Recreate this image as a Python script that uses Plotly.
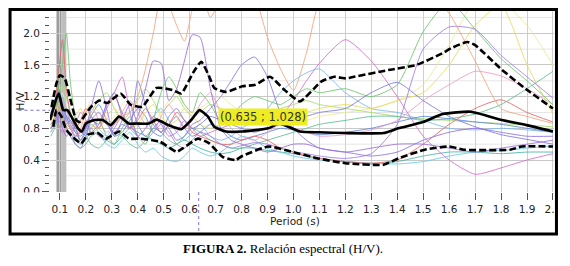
import plotly.graph_objects as go

# ---------------- data ----------------
# common period grid for the individual H/V curves
P = [0.065, 0.08, 0.095, 0.11, 0.125, 0.14, 0.16, 0.18, 0.20, 0.22,
     0.25, 0.28, 0.31, 0.34, 0.37, 0.40, 0.43, 0.46, 0.49, 0.52,
     0.55, 0.58, 0.61, 0.64, 0.68, 0.72, 0.76, 0.80, 0.85, 0.90,
     0.95, 1.00, 1.05, 1.10, 1.20, 1.30, 1.40, 1.50, 1.60, 1.70,
     1.80, 1.90, 2.00]

hv_orange = [0.90, 1.00, 1.10, 0.95, 0.85, 0.80, 0.70, 0.75, 0.90, 0.85,
             0.80, 0.92, 0.85, 0.95, 1.00, 1.20, 1.55, 2.00, 2.45, 2.35,
             2.10, 1.90, 2.30, 2.60, 2.20, 2.45, 2.80, 2.80, 2.50, 1.95,
             1.55, 1.28, 1.75, 2.40, 2.80, 2.80, 2.80, 2.60, 2.25, 1.65,
             1.05, 0.95, 0.86]
hv_purple_a = [0.85, 0.90, 1.00, 0.80, 0.70, 0.75, 0.60, 0.55, 0.70, 0.90,
               1.00, 0.85, 0.75, 0.85, 0.80, 0.95, 1.30, 1.65, 1.62, 1.15,
               1.30, 1.65, 1.98, 1.95, 1.30, 0.80, 0.65, 0.60, 0.55, 0.50,
               0.55, 0.60, 0.60, 0.55, 0.50, 0.55, 0.60, 0.60, 0.55, 0.50,
               0.55, 0.60, 0.65]
hv_purple_b = [0.95, 1.05, 0.90, 0.85, 0.95, 0.90, 0.75, 0.65, 0.80, 1.05,
               1.40, 1.05, 0.70, 0.90, 1.10, 0.85, 0.70, 0.80, 0.90, 0.80,
               0.65, 0.70, 0.85, 0.90, 1.05, 1.20, 1.40, 1.60, 1.70, 1.45,
               1.00, 0.80, 0.65, 0.55, 0.50, 0.45, 0.50, 0.65, 0.75, 0.80,
               0.75, 0.70, 0.70]
hv_violet = [0.80, 0.85, 0.95, 1.05, 0.90, 0.80, 0.70, 0.75, 0.85, 0.80,
             0.70, 0.65, 0.80, 0.95, 0.85, 0.70, 0.65, 0.75, 0.85, 0.75,
             0.60, 0.55, 0.65, 0.75, 0.70, 0.60, 0.55, 0.58, 0.62, 0.60,
             0.55, 0.50, 0.48, 0.45, 0.42, 0.48, 0.85, 1.80, 2.08, 2.05,
             1.72, 1.45, 1.18]
hv_blueviolet = [1.00, 1.10, 1.20, 1.00, 0.85, 0.90, 0.80, 0.65, 0.75, 0.90,
                 0.85, 1.10, 1.25, 0.95, 0.80, 1.40, 1.10, 0.85, 0.75, 0.95,
                 1.05, 0.90, 0.80, 0.85, 0.95, 0.90, 0.85, 0.80, 0.75, 0.80,
                 0.85, 0.90, 0.95, 1.00, 1.05, 1.25, 1.38, 1.15, 0.95, 0.82,
                 0.72, 0.66, 0.60]
hv_magenta = [0.90, 1.00, 0.85, 0.75, 0.80, 0.70, 0.85, 1.00, 0.90, 0.75,
              0.85, 1.10, 1.25, 1.45, 1.00, 0.70, 0.80, 0.95, 0.85, 0.70,
              0.75, 0.90, 0.80, 0.70, 0.75, 0.80, 0.85, 0.90, 0.95, 0.90,
              0.95, 1.15, 1.40, 1.62, 1.92, 1.65, 1.20, 0.70, 0.40, 0.22,
              0.30, 0.40, 0.48]
hv_pink = [0.75, 0.85, 1.00, 1.15, 1.05, 0.85, 0.70, 0.80, 1.00, 1.10,
           0.90, 0.75, 0.85, 1.00, 1.15, 1.00, 0.85, 0.75, 0.95, 1.10,
           0.95, 0.80, 0.90, 1.10, 1.25, 1.00, 0.80, 0.70, 0.65, 0.75,
           0.85, 0.80, 0.75, 0.70, 0.72, 0.78, 0.90, 1.15, 1.35, 1.52,
           1.46, 1.30, 1.10]
hv_green = [0.80, 0.95, 1.30, 1.60, 2.00, 1.40, 0.90, 0.60, 0.65, 0.80,
            0.90, 0.70, 0.60, 0.80, 0.95, 0.70, 0.60, 0.90, 1.25, 1.45,
            1.30, 1.10, 1.00, 1.25, 1.10, 0.90, 0.95, 1.10, 1.20, 1.15,
            1.10, 1.20, 1.30, 1.25, 1.30, 1.20, 1.35, 2.02, 2.40, 2.05,
            1.68, 1.40, 1.10]
hv_seagreen = [0.70, 0.80, 0.95, 1.10, 0.95, 0.80, 0.70, 0.75, 0.70, 0.60,
               0.55, 0.65, 0.75, 0.70, 0.60, 0.55, 0.65, 0.80, 0.75, 0.65,
               0.60, 0.70, 0.80, 0.75, 0.65, 0.60, 0.55, 0.55, 0.60, 0.65,
               0.70, 0.75, 0.80, 0.85, 0.90, 0.95, 0.95, 0.90, 0.92, 0.98,
               1.10, 1.30, 1.52]
hv_cyan = [0.75, 0.85, 1.00, 1.20, 1.05, 0.85, 0.65, 0.60, 0.70, 0.85,
           0.75, 0.60, 0.55, 0.65, 0.75, 0.60, 0.50, 0.55, 0.45, 0.40,
           0.38, 0.45, 0.55, 0.50, 0.45, 0.50, 0.60, 0.70, 0.65, 0.55,
           0.50, 0.45, 0.42, 0.40, 0.38, 0.36, 0.35, 0.38, 0.45, 0.50,
           0.52, 0.55, 0.58]
hv_lightblue = [0.95, 1.05, 1.15, 1.00, 0.90, 0.95, 0.85, 0.75, 0.85, 0.95,
                0.80, 0.70, 0.85, 0.95, 0.80, 0.70, 0.80, 0.95, 1.05, 0.90,
                0.75, 0.65, 0.75, 0.85, 0.70, 0.65, 0.70, 0.80, 0.90, 1.05,
                1.25, 1.40, 1.50, 1.55, 1.25, 1.05, 1.00, 0.90, 0.80, 0.78,
                0.80, 0.78, 0.75]
hv_yellow = [0.85, 0.95, 1.05, 0.90, 0.80, 0.85, 0.95, 1.05, 0.90, 0.75,
             0.80, 0.95, 1.05, 0.90, 0.80, 0.85, 1.00, 1.10, 0.95, 0.85,
             0.90, 1.05, 0.95, 0.85, 0.80, 0.85, 0.90, 0.95, 1.00, 0.95,
             0.90, 0.95, 1.00, 1.05, 1.10, 1.05, 1.15, 1.25, 1.60, 2.10,
             2.35, 1.60, 0.98]
hv_red = [0.90, 1.10, 1.50, 1.92, 1.30, 1.00, 0.80, 0.90, 1.05, 0.95,
          0.80, 1.05, 1.20, 1.00, 0.80, 0.90, 1.05, 0.90, 0.75, 0.85,
          1.00, 0.90, 0.75, 0.70, 0.65, 0.60, 0.60, 0.65, 0.70, 0.65,
          0.55, 0.50, 0.45, 0.42, 0.38, 0.36, 0.40, 0.60, 0.85, 1.05,
          1.16, 1.00, 0.88]
hv_blue = [1.05, 1.15, 1.30, 1.10, 0.95, 0.85, 0.75, 0.70, 0.80, 0.95,
           1.10, 0.90, 0.70, 0.75, 0.90, 1.05, 0.95, 0.75, 0.70, 0.85,
           0.95, 0.80, 0.70, 0.75, 0.85, 0.80, 0.70, 0.65, 0.70, 0.75,
           0.80, 0.78, 0.75, 0.72, 0.75, 0.80, 0.88, 0.95, 0.92, 0.88,
           0.85, 0.80, 0.75]
hv_lime = [0.95, 1.05, 1.20, 1.40, 1.20, 1.00, 0.85, 0.75, 0.85, 1.00,
           1.15, 1.25, 1.05, 0.90, 1.00, 1.15, 1.30, 1.15, 1.00, 1.10,
           1.20, 1.05, 0.95, 1.00, 1.10, 1.05, 0.95, 0.90, 0.95, 1.00,
           1.05, 1.10, 1.15, 1.10, 1.05, 1.00, 0.95, 0.92, 0.90, 0.88,
           0.86, 0.84, 0.82]
hv_teal = [0.80, 0.90, 1.00, 0.90, 0.80, 0.70, 0.60, 0.55, 0.60, 0.70,
           0.75, 0.65, 0.60, 0.70, 0.80, 0.75, 0.70, 0.65, 0.60, 0.55,
           0.60, 0.65, 0.60, 0.55, 0.50, 0.48, 0.50, 0.55, 0.55, 0.52,
           0.50, 0.48, 0.45, 0.42, 0.38, 0.35, 0.38, 0.45, 0.50, 0.50,
           0.48, 0.50, 0.50]
hv_paleyellow = [0.85, 0.95, 1.10, 1.25, 1.05, 0.90, 0.80, 0.85, 1.00, 1.15,
                 1.00, 0.85, 0.95, 1.10, 1.20, 1.05, 0.90, 0.85, 1.00, 1.15,
                 1.25, 1.10, 1.00, 1.05, 1.15, 1.20, 1.10, 1.00, 0.95, 0.90,
                 0.85, 0.88, 0.90, 0.95, 1.00, 1.05, 1.15, 1.35, 1.85, 2.40,
                 2.40, 2.10, 1.60]

# mean H/V curve
mean_x = [0.062, 0.087, 0.096, 0.113, 0.129, 0.144, 0.17, 0.185, 0.20, 0.233,
          0.265, 0.296, 0.328, 0.366, 0.396, 0.442, 0.473, 0.518, 0.568, 0.606,
          0.638, 0.67, 0.695, 0.74, 0.803, 0.904, 0.942, 0.98, 1.025, 1.10,
          1.20, 1.347, 1.404, 1.50, 1.575, 1.683, 1.803, 1.898, 2.0]
mean_y = [0.905, 1.18, 1.24, 1.03, 1.03, 0.95, 0.80, 0.76, 0.86, 0.905,
          0.905, 0.84, 0.95, 0.86, 0.86, 0.86, 0.91, 0.84, 0.79, 0.905,
          1.03, 0.95, 0.82, 0.76, 0.76, 0.80, 0.86, 0.82, 0.76, 0.75,
          0.74, 0.74, 0.80, 0.88, 0.98, 1.01, 0.905, 0.84, 0.76]

# mean + std
upper_x = [0.068, 0.087, 0.10, 0.119, 0.138, 0.163, 0.176, 0.22, 0.252, 0.283,
           0.334, 0.372, 0.417, 0.473, 0.537, 0.568, 0.613, 0.645, 0.676, 0.695,
           0.74, 0.803, 0.853, 0.91, 0.967, 1.025, 1.107, 1.157, 1.202, 1.233,
           1.373, 1.474, 1.575, 1.607, 1.67, 1.70, 1.803, 1.898, 2.0]
upper_y = [1.07, 1.37, 1.47, 1.43, 1.20, 0.905, 0.88, 1.07, 1.15, 1.12,
           1.24, 1.10, 1.07, 1.31, 1.28, 1.24, 1.50, 1.64, 1.45, 1.31,
           1.26, 1.33, 1.35, 1.45, 1.28, 1.14, 1.39, 1.45, 1.43, 1.45,
           1.54, 1.60, 1.75, 1.81, 1.89, 1.85, 1.54, 1.29, 1.05]

# mean - std
lower_x = [0.075, 0.087, 0.106, 0.125, 0.15, 0.182, 0.208, 0.245, 0.277, 0.328,
           0.366, 0.41, 0.486, 0.55, 0.575, 0.632, 0.676, 0.727, 0.777, 0.803,
           0.904, 0.993, 1.094, 1.20, 1.347, 1.404, 1.506, 1.60, 1.658, 1.835,
           1.88, 2.0]
lower_y = [0.82, 1.03, 0.95, 0.78, 0.69, 0.61, 0.72, 0.74, 0.67, 0.76,
           0.67, 0.67, 0.63, 0.505, 0.55, 0.67, 0.61, 0.44, 0.40, 0.45,
           0.57, 0.505, 0.42, 0.36, 0.34, 0.42, 0.53, 0.57, 0.53, 0.53,
           0.57, 0.57]

x_ticks = [0.1, 0.2, 0.3, 0.4, 0.5, 0.6, 0.7, 0.8, 0.9, 1.0,
           1.1, 1.2, 1.3, 1.4, 1.5, 1.6, 1.7, 1.8, 1.9, 2.0]
y_ticks = [0.0, 0.4, 0.8, 1.2, 1.6, 2.0]
y_subgrid = [0.2, 0.6, 1.0, 1.4, 1.8, 2.2]

band_x = [0.087, 0.106, 0.125]          # shaded peak band
cursor_x, cursor_y = 0.635, 1.028
cursor_label = "(0.635 ; 1.028)"

curves = [
    (hv_paleyellow, "#eeeb98"), (hv_lime, "#a6dc6e"), (hv_teal, "#45b5a5"),
    (hv_seagreen, "#5cbf8f"), (hv_cyan, "#66ccec"), (hv_lightblue, "#7ab8f0"),
    (hv_blue, "#5a86e0"), (hv_yellow, "#e6df5a"), (hv_red, "#e86666"),
    (hv_pink, "#f29ac4"), (hv_green, "#6cc86c"), (hv_magenta, "#d46fcf"),
    (hv_blueviolet, "#7c78e0"), (hv_violet, "#a47ee8"), (hv_purple_b, "#8c72e6"),
    (hv_purple_a, "#9b6fd6"), (hv_orange, "#f3a47a"),
]

# ---------------- figure ----------------
fig = go.Figure()
for vals, col in curves:
    fig.add_trace(go.Scatter(x=P, y=vals, mode="lines",
                             line=dict(color=col, width=1, shape="spline", smoothing=0.6),
                             opacity=0.85, hoverinfo="skip", showlegend=False))

fig.add_trace(go.Scatter(x=upper_x, y=upper_y, mode="lines",
                         line=dict(color="black", width=2.6, dash="7px,3px",
                                   shape="spline", smoothing=0.5),
                         showlegend=False))
fig.add_trace(go.Scatter(x=lower_x, y=lower_y, mode="lines",
                         line=dict(color="black", width=2.6, dash="7px,3px",
                                   shape="spline", smoothing=0.5),
                         showlegend=False))
fig.add_trace(go.Scatter(x=mean_x, y=mean_y, mode="lines",
                         line=dict(color="black", width=2.6, shape="spline", smoothing=0.5),
                         showlegend=False))

L, R, T, B = 50, 9, 11, 74
W, H = 570, 266
pw, ph = W - L - R, H - T - B


def px2x(px):
    return (px - L) / pw


def py2y(py):
    return (H - B - py) / ph


shapes = []
for yv in y_subgrid:
    shapes.append(dict(type="line", xref="paper", yref="y", x0=0, x1=1, y0=yv, y1=yv,
                       line=dict(color="#e6e6e6", width=1), layer="below"))
shapes.append(dict(type="rect", xref="x", yref="paper", x0=band_x[0], x1=band_x[1],
                   y0=0, y1=1, fillcolor="#9c9c9c", line=dict(width=0), layer="between"))
shapes.append(dict(type="rect", xref="x", yref="paper", x0=band_x[1], x1=band_x[2],
                   y0=0, y1=1, fillcolor="#bdbdbd", line=dict(width=0), layer="between"))
# cursor cross-hair in the margins
shapes.append(dict(type="line", xref="x", yref="paper", x0=cursor_x, x1=cursor_x,
                   y0=0, y1=py2y(232), line=dict(color="#8a70d8", width=1, dash="dot"),
                   layer="above"))
shapes.append(dict(type="line", xref="paper", yref="y", x0=px2x(18), x1=0,
                   y0=cursor_y, y1=cursor_y, line=dict(color="#7070d0", width=1, dash="dot"),
                   layer="above"))
# crop effects
shapes.append(dict(type="rect", xref="paper", yref="paper", x0=px2x(18), x1=px2x(42.5),
                   y0=py2y(200), y1=py2y(192.4), fillcolor="white", line=dict(width=0),
                   layer="above"))
shapes.append(dict(type="rect", xref="paper", yref="paper", x0=px2x(565), x1=px2x(580),
                   y0=py2y(270), y1=py2y(-5), fillcolor="white", line=dict(width=0),
                   layer="above"))
# frame
shapes.append(dict(type="rect", xref="paper", yref="paper", x0=px2x(9.5), x1=px2x(563.5),
                   y0=py2y(234), y1=py2y(9.5), line=dict(color="black", width=3),
                   fillcolor="rgba(0,0,0,0)", layer="above"))

annotations = [
    dict(x=0.881, y=0.937, xref="x", yref="y", text=cursor_label, showarrow=False,
         xanchor="center", yanchor="middle", bgcolor="#eded22", borderpad=1,
         font=dict(family="DejaVu Sans", size=11.5, color="#333")),
    dict(x=px2x(20), y=py2y(101), xref="paper", yref="paper", text="H/V", textangle=-90,
         xanchor="center", yanchor="middle", showarrow=False,
         font=dict(family="DejaVu Sans", size=10.5, color="#222")),
    dict(x=px2x(298), y=py2y(221), xref="paper", yref="paper", text="Period (s)",
         xanchor="center", yanchor="middle", showarrow=False,
         font=dict(family="DejaVu Sans", size=10.5, color="#222")),
    dict(x=px2x(286.5), y=py2y(248), xref="paper", yref="paper",
         text="<b>FIGURA 2.</b> Relación espectral (H/V).", showarrow=False,
         xanchor="center", yanchor="middle",
         font=dict(family="Liberation Serif", size=13, color="black")),
]

fig.update_layout(
    width=W, height=H, margin=dict(l=L, r=R, t=T, b=B),
    paper_bgcolor="white", plot_bgcolor="white", showlegend=False,
    shapes=shapes, annotations=annotations,
    xaxis=dict(range=[0.062, 2.004], tickmode="array", tickvals=x_ticks,
               ticktext=[f"{v:.1f}" for v in x_ticks],
               showgrid=True, gridcolor="#cfcfcf", gridwidth=1, zeroline=False,
               showline=False, ticks="outside", ticklen=7, tickcolor="#555",
               tickfont=dict(family="DejaVu Sans", size=10.5, color="#222")),
    yaxis=dict(range=[-0.004, 2.281], tickmode="array", tickvals=y_ticks,
               ticktext=[f"{v:.1f}" for v in y_ticks],
               showgrid=True, gridcolor="#c8c8c8", gridwidth=1, zeroline=False,
               showline=False, ticks="outside", ticklen=7, tickcolor="#555",
               tickfont=dict(family="DejaVu Sans", size=10.5, color="#222"),
               minor=dict(tickmode="linear", tick0=0, dtick=0.1, ticks="outside",
                          ticklen=4, tickcolor="#555", showgrid=False)),
)

fig.write_html("out.html")
